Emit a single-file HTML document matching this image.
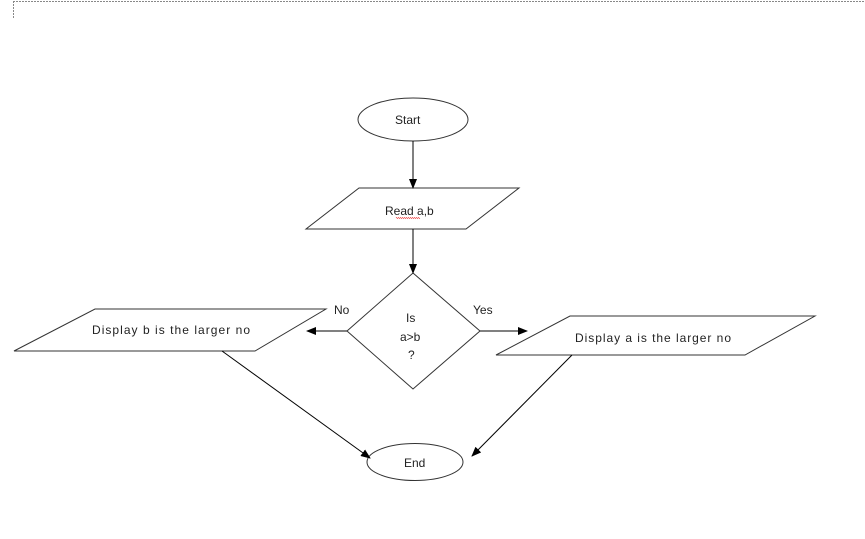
<!DOCTYPE html>
<html><head><style>
html,body{margin:0;padding:0;background:#fff;}
svg{display:block;}
text{font-family:"Liberation Sans",sans-serif;font-size:12px;fill:#222;}
</style></head><body>
<svg width="865" height="539" viewBox="0 0 865 539">
<defs><marker id="a" markerWidth="10" markerHeight="8" refX="9" refY="4" orient="auto" markerUnits="userSpaceOnUse"><path d="M0,0 L10,4 L0,8 z" fill="#000"/></marker></defs>
<path d="M13,1.5 H865 M13.5,1 V18" stroke="#888" stroke-dasharray="2,1" fill="none"/>
<g stroke="#333" stroke-width="1" fill="#fff">
<ellipse cx="413" cy="119.5" rx="55" ry="21.5"/>
<polygon points="359,188 519,188 466,229 306,229"/>
<polygon points="413,273 480,331 413,389 347,331"/>
<polygon points="95,309 326,309 255,351 14,351"/>
<polygon points="570,316 815,316 745,355 496,355"/>
<ellipse cx="415" cy="462" rx="48" ry="18.5"/>
</g>
<g stroke="#000" stroke-width="1" fill="none" marker-end="url(#a)">
<line x1="413" y1="141" x2="413" y2="188"/>
<line x1="413" y1="229" x2="413" y2="273"/>
<line x1="347" y1="331" x2="307" y2="331"/>
<line x1="480" y1="331" x2="527" y2="331"/>
<line x1="222" y1="351" x2="370" y2="458"/>
<line x1="572" y1="355" x2="472" y2="456"/>
</g>
<text x="395" y="124">Start</text>
<text x="385" y="215">Read a,b</text>
<path d="M396,218 q1,-1 2,0 t2,0 t2,0 t2,0 t2,0 t2,0 t2,0 t2,0 t2,0 t2,0 t2,0 t2,0 t2,0 t2,0 t2,0 t2,0 t2,0 t2,0 t2,0 t2,0 t2,0 t2,0 t2,0 t2,0" stroke="#e33" fill="none" stroke-width="0.8" transform="scale(0.5,1) translate(396,0)"/>
<text x="406" y="322">Is</text>
<text x="400" y="341">a&gt;b</text>
<text x="408" y="359">?</text>
<text x="334" y="314">No</text>
<text x="473" y="314">Yes</text>
<text x="92" y="334" textLength="158" lengthAdjust="spacing">Display b is the larger no</text>
<text x="575" y="342" textLength="156" lengthAdjust="spacing">Display a is the larger no</text>
<text x="404" y="467">End</text>
</svg>
</body></html>
